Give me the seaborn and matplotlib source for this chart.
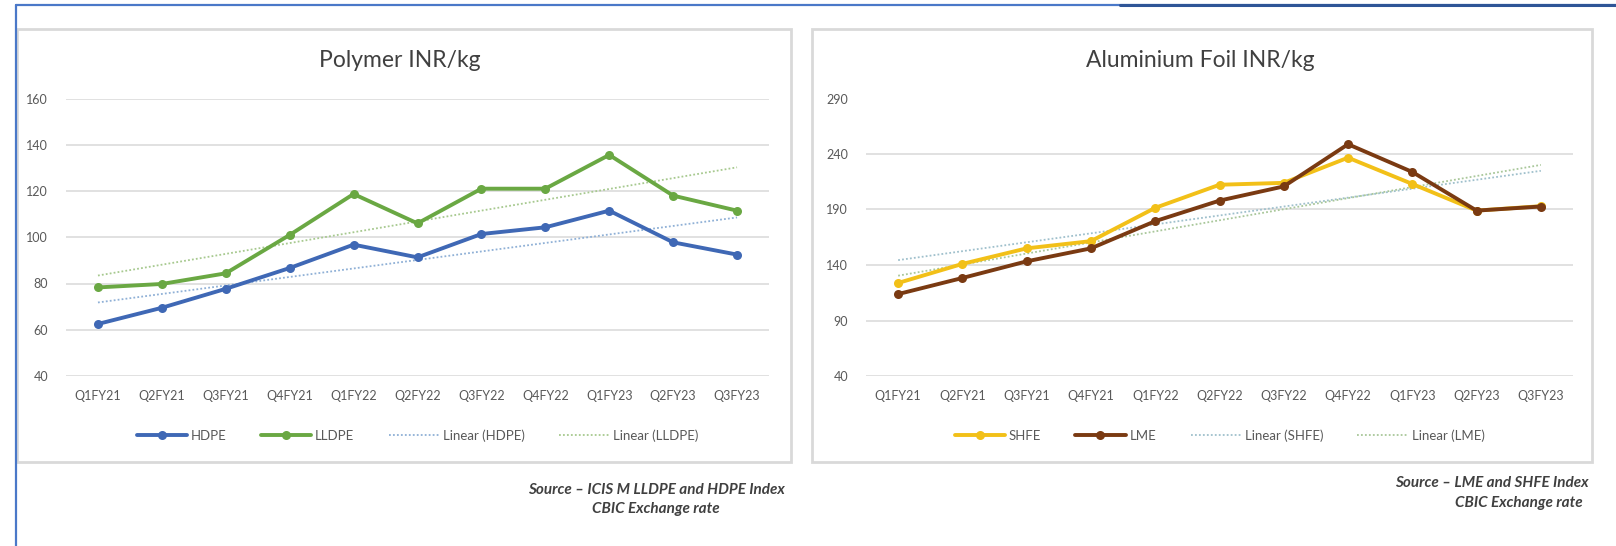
import numpy as np
import pandas as pd
import matplotlib
matplotlib.use("Agg")
import matplotlib.pyplot as plt
from matplotlib.patches import Rectangle
from matplotlib.lines import Line2D
import seaborn as sns

sns.set_theme(style="white")
plt.rcParams["font.family"] = ["Lato", "DejaVu Sans"]

quarters = ["Q1FY21", "Q2FY21", "Q3FY21", "Q4FY21", "Q1FY22", "Q2FY22",
            "Q3FY22", "Q4FY22", "Q1FY23", "Q2FY23", "Q3FY23"]

hdpe = [62.5, 69.5, 77.7, 86.7, 96.8, 91.3, 101.4, 104.3, 111.5, 97.8, 92.5]
lldpe = [78.3, 79.8, 84.4, 101.0, 118.7, 106.0, 121.0, 121.0, 135.6, 118.0, 111.5]

shfe = [123.8, 141.0, 155.0, 161.5, 191.5, 212.3, 214.0, 236.7, 213.0, 189.0, 193.0]
lme = [113.8, 128.3, 143.3, 155.0, 179.5, 198.0, 210.8, 248.8, 223.8, 189.0, 192.7]

polymer_ticks = [40, 60, 80, 100, 120, 140, 160]
foil_ticks = [40, 90, 140, 190, 240, 290]

W, H = 1616, 546
fig = plt.figure(figsize=(W / 100, H / 100), dpi=100)
fig.patch.set_facecolor("white")


def fx(px):
    return px / W


def fy(py):
    return 1 - py / H


# page frame
fig.add_artist(Line2D([fx(16), 1], [fy(5), fy(5)], color="#4A78C8", lw=1.6))
fig.add_artist(Line2D([fx(1120), 1], [fy(5), fy(5)], color="#2F5597", lw=2.2))
fig.add_artist(Line2D([fx(16), fx(16)], [fy(5), 0], color="#4A78C8", lw=1.6))

# chart panels
for x0, x1 in [(17, 791), (812, 1592)]:
    fig.add_artist(Rectangle((fx(x0), fy(462)), fx(x1 - x0), fy(29) - fy(462),
                             transform=fig.transFigure, fill=False,
                             edgecolor="#D9D9D9", lw=2))


def draw_panel(ax, series, names, colors, trend_colors, ticks, title, title_x):
    x = np.arange(len(quarters))
    handles_main, handles_trend = [], []
    for vals, name, col in zip(series, names, colors):
        df = pd.DataFrame({"x": x, "v": vals})
        sns.lineplot(data=df, x="x", y="v", ax=ax, color=col, lw=2.8,
                     marker="o", markersize=6.5, markeredgewidth=0, label=name,
                     legend=False, zorder=3)
        handles_main.append(Line2D([], [], color=col, lw=2.8, marker="o",
                                   markersize=6.5, markeredgewidth=0))
    for vals, name, col in zip(series, names, trend_colors):
        df = pd.DataFrame({"x": x, "v": vals})
        sns.regplot(data=df, x="x", y="v", ax=ax, scatter=False, ci=None,
                    line_kws=dict(color=col, lw=1.3, ls=(0, (1, 1.2)), zorder=2))
        handles_trend.append(Line2D([], [], color=col, lw=1.3, ls=(0, (1, 1.2))))

    ax.set_xlim(-0.5, len(quarters) - 0.5)
    ax.set_ylim(ticks[0], ticks[-1])
    ax.set_yticks(ticks)
    ax.set_xticks(x)
    ax.set_xticklabels(quarters)
    ax.set_xlabel("")
    ax.set_ylabel("")
    ax.grid(axis="y", color="#D9D9D9", lw=1.1)
    ax.grid(axis="x", visible=False)
    ax.set_axisbelow(True)
    for s in ax.spines.values():
        s.set_visible(False)
    ax.tick_params(axis="y", length=0, pad=13, labelsize=9, labelcolor="#595959")
    ax.tick_params(axis="x", length=0, pad=10, labelsize=9, labelcolor="#595959")

    labels = names + [f"Linear ({n})" for n in names]
    ax.legend(handles_main + handles_trend, labels, ncol=4, frameon=False,
              loc="center", bbox_to_anchor=(0.5, -0.215), fontsize=9.5,
              labelcolor="#595959", handlelength=3.8, handletextpad=0.3,
              columnspacing=2.6)
    fig.text(fx(title_x), fy(60), title, ha="center", va="center",
             fontsize=16.5, color="#404040")


ax1 = fig.add_axes([fx(66), fy(376), fx(769 - 66), fy(98.5) - fy(376)])
draw_panel(ax1, [hdpe, lldpe], ["HDPE", "LLDPE"], ["#3F68B5", "#6AA843"],
           ["#8FB0D6", "#A7C98F"], polymer_ticks, "Polymer INR/kg", 400)

ax2 = fig.add_axes([fx(866), fy(376), fx(1573 - 866), fy(98.5) - fy(376)])
draw_panel(ax2, [shfe, lme], ["SHFE", "LME"], ["#F2C018", "#7A3A12"],
           ["#9FC0CC", "#A9C79A"], foil_ticks, "Aluminium Foil INR/kg", 1200)

# source notes
src_kw = dict(fontsize=11, fontstyle="italic", fontweight="bold", color="#404040")
fig.text(fx(656), fy(490), "Source \u2013 ICIS M LLDPE and HDPE Index", ha="center", va="center", **src_kw)
fig.text(fx(656), fy(509), "CBIC Exchange rate", ha="center", va="center", **src_kw)
fig.text(fx(1589), fy(483), "Source \u2013 LME and SHFE Index", ha="right", va="center", **src_kw)
fig.text(fx(1583), fy(503), "CBIC Exchange rate", ha="right", va="center", **src_kw)

fig.savefig("out.png", dpi=100, facecolor="white")
